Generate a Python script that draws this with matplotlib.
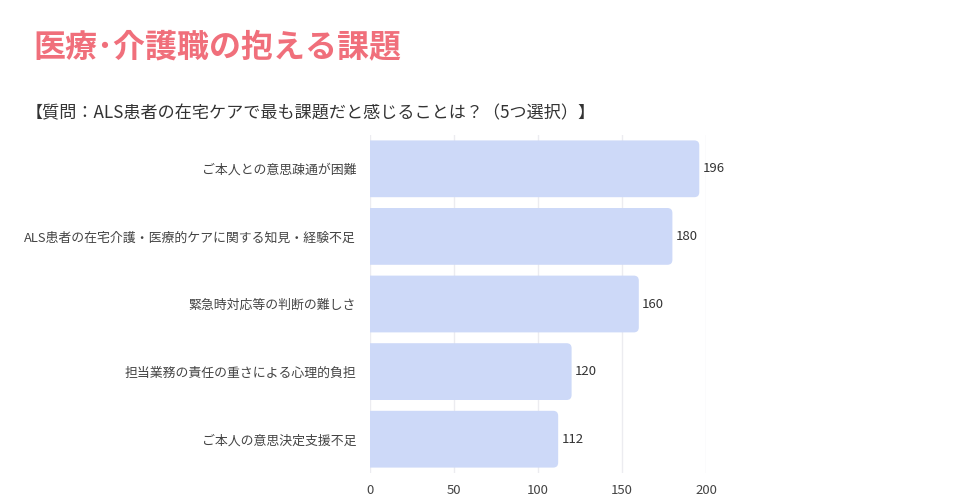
import matplotlib
matplotlib.use("Agg")
import matplotlib.pyplot as plt
from matplotlib.patches import FancyBboxPatch

plt.rcParams['font.family'] = ['Noto Sans CJK JP', 'DejaVu Sans']

categories = [
    "ご本人との意思疎通が困難",
    "ALS患者の在宅介護・医療的ケアに関する知見・経験不足",
    "緊急時対応等の判断の難しさ",
    "担当業務の責任の重さによる心理的負担",
    "ご本人の意思決定支援不足",
]
values = [196, 180, 160, 120, 112]
xticks = [0, 50, 100, 150, 200]
title = "医療･介護職の抱える課題"
subtitle = "【質問：ALS患者の在宅ケアで最も課題だと感じることは？（5つ選択）】"

fig = plt.figure(figsize=(9.6, 5.0), dpi=100)
ax = fig.add_axes([370/960, 1-473/500, (706-370)/960, (473-135)/500])

n = len(categories)
ys = list(range(n))
bar_h = 0.84
ax.set_xlim(0, 200)
ax.set_ylim(n - 0.5, -0.5)

# rounding: ~5px in both directions
px_x = 200 / 336.0
px_y = 1.0 / ((473-135)/n)
r = 5 * px_x
aspect = (5 * px_y) / r
for y, v in zip(ys, values):
    p = FancyBboxPatch((-10, y - bar_h/2), v + 10, bar_h,
                       boxstyle=f"round,pad=0,rounding_size={r}",
                       mutation_aspect=aspect,
                       facecolor="#cdd9f8", edgecolor="none", zorder=2)
    ax.add_patch(p)
    ax.text(v + 2, y, str(v), va="center", ha="left", fontsize=9.5, color="#333333")

ax.set_yticks(ys)
ax.set_yticklabels(categories, fontsize=9.3, color="#444444")
ax.set_xticks(xticks)
ax.set_xticklabels([str(t) for t in xticks], fontsize=9.5, color="#444444")
ax.tick_params(axis='x', length=0, pad=8)
ax.tick_params(axis='y', length=0, pad=10)
for s in ax.spines.values():
    s.set_visible(False)
ax.grid(axis='x', color="#ececf0", linewidth=1, zorder=0)
ax.set_axisbelow(True)

fig.text(33/960, 1-48/500, title, fontsize=23, fontweight='bold', color="#f06f7b", va="center", ha="left")
fig.text(26/960, 1-113/500, subtitle, fontsize=12.3, color="#333333", va="center", ha="left")

fig.savefig("out.png", dpi=100)
